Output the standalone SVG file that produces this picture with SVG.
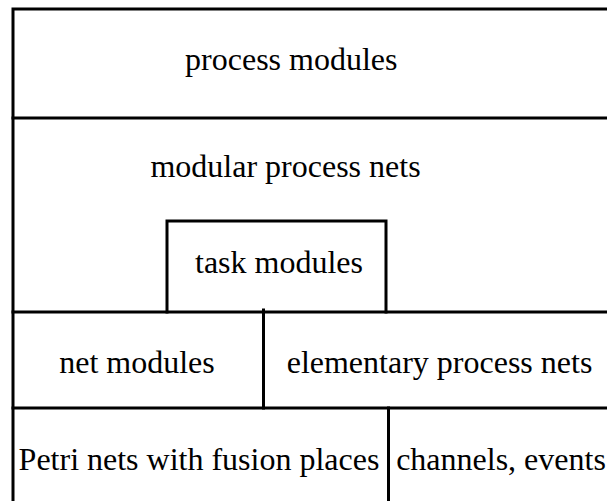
<svg xmlns="http://www.w3.org/2000/svg" width="607" height="501" viewBox="0 0 607 501">
  <style>
    .rule { stroke: #000; stroke-width: 3; fill: none; stroke-linecap: square; }
    .lbl { font-family: "Liberation Serif", "Times New Roman", serif; font-size: 32px; fill: #000; text-anchor: middle; }
  </style>
  <rect width="607" height="501" fill="#fff"/>
  <g id="connectors">
    <!-- frame and layer dividers -->
    <path class="rule" d="M13 501 V9 H607"/>
    <path class="rule" d="M13 118 H607"/>
    <path class="rule" d="M13 312 H607"/>
    <path class="rule" d="M13 408 H607"/>
    <path class="rule" d="M263.5 310 V408"/>
    <path class="rule" d="M388.5 408 V501"/>
  </g>
  <g id="process-modules">
    <text class="lbl" x="291.3" y="70">process modules</text>
  </g>
  <g id="modular-process-nets">
    <text class="lbl" x="285.5" y="176.7">modular process nets</text>
  </g>
  <g id="task-modules">
    <path class="rule" d="M167 312 V221 H386 V312"/>
    <text class="lbl" x="279" y="272.7">task modules</text>
  </g>
  <g id="net-modules">
    <text class="lbl" x="137" y="372.7">net modules</text>
  </g>
  <g id="elementary-process-nets">
    <text class="lbl" x="439.5" y="372.7">elementary process nets</text>
  </g>
  <g id="petri-nets-fusion">
    <text class="lbl" x="199" y="470">Petri nets with fusion places</text>
  </g>
  <g id="channels-events">
    <text class="lbl" x="501" y="470">channels, events</text>
  </g>
</svg>
